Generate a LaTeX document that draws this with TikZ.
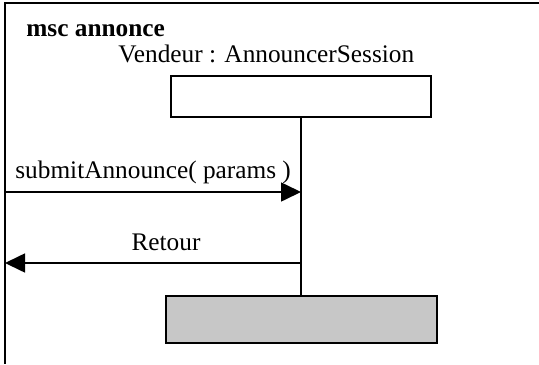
\documentclass[tikz,border=0pt]{standalone}
\usepackage{fontspec}
\setmainfont{Liberation Serif}
\usetikzlibrary{arrows.meta, positioning, calc}

\begin{document}
\begin{tikzpicture}[
    x = 0.5pt, y = -0.5pt,
    every node/.style = {font=\fontsize{12.65}{15}\selectfont, inner sep=0pt},
    frame/.style = {draw=black, line width=0.9pt},
    lifebox/.style = {rectangle, draw=black, line width=0.8pt, minimum width=130pt, minimum height=20.5pt},
    endbox/.style = {rectangle, draw=black, fill=black!22, line width=0.8pt, minimum width=135.5pt, minimum height=23.5pt},
    lifeline/.style = {draw=black, line width=0.8pt},
    msg/.style = {draw=black, line width=0.8pt, -{Triangle[length=10pt, width=9.5pt]}}
]
\useasboundingbox (0,0) rectangle (539,364);

% Frame
\coordinate (fnw) at (5,3);
\draw [frame] (539,3) -- (fnw) -- (5,364);

% Labels
\node (title) [anchor=base west, font=\fontsize{12.65}{15}\selectfont\bfseries] at (26,36) {msc annonce};
\node (inst) [anchor=base west] at (118,62) {Vendeur : AnnouncerSession};

% Instance head and end
\node (head) [lifebox] at (301,96.5) {};
\node (stop) [endbox] at (301.5,319.5) {};
\draw [lifeline] (head.south) -- (head.south |- stop.north);

% Messages
\coordinate (envA) at (5,192);
\coordinate (envB) at (5,263);
\node (m1) [anchor=base west] at (15,178) {submitAnnounce( params )};
\node (m2) [anchor=base] at (166,250) {Retour};
\draw [msg] (envA) -- (head.south |- envA);
\draw [msg] (head.south |- envB) -- (envB);

\end{tikzpicture}
\end{document}
